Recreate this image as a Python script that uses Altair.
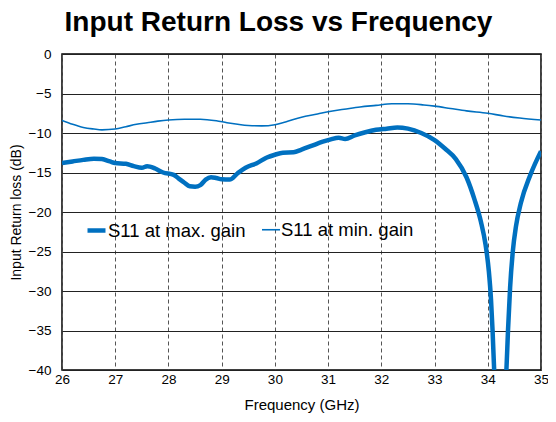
import altair as alt
import pandas as pd

# S11 at max. gain (thick line)
freq_max = [26.0, 26.2, 26.4, 26.6, 26.75, 26.9, 27.0, 27.2, 27.35, 27.5, 27.6, 27.65,
            27.75, 27.9, 28.1, 28.2, 28.3, 28.4, 28.5, 28.6, 28.7, 28.8, 28.9, 29.0,
            29.15, 29.3, 29.45, 29.65, 29.85, 30.0, 30.15, 30.35, 30.5, 30.7, 30.9,
            31.05, 31.2, 31.32, 31.5, 31.7, 31.9, 32.1, 32.3, 32.5, 32.75, 33.0, 33.2,
            33.4, 33.6, 33.75, 33.87, 33.96, 34.02, 34.06, 34.09, 34.12, 34.18, 34.29, 34.35,
            34.38, 34.42, 34.47, 34.53, 34.62, 34.8, 35.0]
s11_max = [-13.8, -13.6, -13.4, -13.25, -13.3, -13.6, -13.8, -13.9, -14.2, -14.4, -14.2, -14.25,
           -14.5, -15.0, -15.3, -15.8, -16.3, -16.75, -16.8, -16.6, -15.9, -15.6, -15.7, -15.85,
           -15.9, -15.1, -14.4, -13.85, -13.1, -12.75, -12.5, -12.45, -12.1, -11.6, -11.1,
           -10.8, -10.6, -10.75, -10.3, -9.9, -9.6, -9.45, -9.3, -9.45, -10.0, -10.9, -12.0,
           -13.3, -15.6, -18.4, -21.2, -24.2, -27.5, -31.0, -35.0, -40.0, -45.0, -45.0, -40.0,
           -35.0, -29.5, -25.0, -21.8, -18.9, -15.3, -12.3]

# S11 at min. gain (thin line)
freq_min = [26.0, 26.2, 26.4, 26.6, 26.75, 27.0, 27.2, 27.4, 27.6, 27.8, 28.0, 28.3, 28.6,
            28.9, 29.1, 29.3, 29.5, 29.75, 30.0, 30.2, 30.5, 30.8, 31.0, 31.3, 31.6, 31.9,
            32.2, 32.5, 32.8, 33.0, 33.3, 33.6, 34.0, 34.3, 34.6, 35.0]
s11_min = [-8.4, -8.9, -9.3, -9.5, -9.6, -9.5, -9.2, -8.9, -8.7, -8.5, -8.35, -8.25, -8.25,
           -8.45, -8.7, -8.9, -9.05, -9.1, -8.95, -8.6, -8.0, -7.6, -7.3, -7.0, -6.7, -6.5,
           -6.3, -6.3, -6.45, -6.6, -6.9, -7.2, -7.5, -7.85, -8.1, -8.35]

series_names = ["S11 at max. gain", "S11 at min. gain"]
x_ticks = [26, 27, 28, 29, 30, 31, 32, 33, 34, 35]
y_ticks = [-40, -35, -30, -25, -20, -15, -10, -5, 0]

df = pd.concat([
    pd.DataFrame({"freq": freq_max, "s11": s11_max, "series": series_names[0], "order": range(len(freq_max))}),
    pd.DataFrame({"freq": freq_min, "s11": s11_min, "series": series_names[1], "order": range(len(freq_min))}),
])

FONT = "Liberation Sans"
BLUE = "#0070C0"

chart = alt.Chart(df).mark_line(clip=True, interpolate="monotone").encode(
    x=alt.X("freq:Q", scale=alt.Scale(domain=[26, 35], nice=False, zero=False),
            axis=alt.Axis(values=x_ticks, format="d", title="Frequency (GHz)",
                          grid=True, gridDash=[4, 3], gridColor="#555555", gridWidth=1,
                          labelFlush=False, labelPadding=2, titlePadding=12, titleFontSize=15)),
    y=alt.Y("s11:Q", scale=alt.Scale(domain=[-40, 0], nice=False, zero=False),
            axis=alt.Axis(values=y_ticks, title="Input Return loss  (dB)",
                          grid=True, gridColor="#222222", gridWidth=1,
                          labelPadding=11, titlePadding=5, titleFontSize=14)),
    color=alt.Color("series:N", scale=alt.Scale(domain=series_names, range=[BLUE, BLUE])),
    strokeWidth=alt.StrokeWidth("series:N", scale=alt.Scale(domain=series_names, range=[4.5, 1.6])),
    order="order:Q",
).properties(
    width=479,
    height=316,
    title=alt.TitleParams("Input Return Loss vs Frequency", fontSize=28, fontWeight="bold",
                          font=FONT, color="black", anchor="middle", dx=-23, offset=10),
    autosize=alt.AutoSizeParams(type="none"),
    padding={"left": 54, "top": 46, "right": 7, "bottom": 44},
).configure_view(
    stroke="black", strokeWidth=1.5
).configure_axis(
    domain=False, ticks=False, labelFont=FONT, titleFont=FONT, labelColor="black",
    titleColor="black", labelFontSize=13.5, titleFontWeight="normal"
).configure_legend(
    orient="none", legendX=23, legendY=165, direction="horizontal", title=None,
    labelFont=FONT, labelFontSize=18.5, labelColor="black", symbolType="stroke",
    symbolSize=324, labelOffset=0, columnPadding=12, padding=0
)

chart.save("out.html", embed_options={"renderer": "svg", "actions": False})
